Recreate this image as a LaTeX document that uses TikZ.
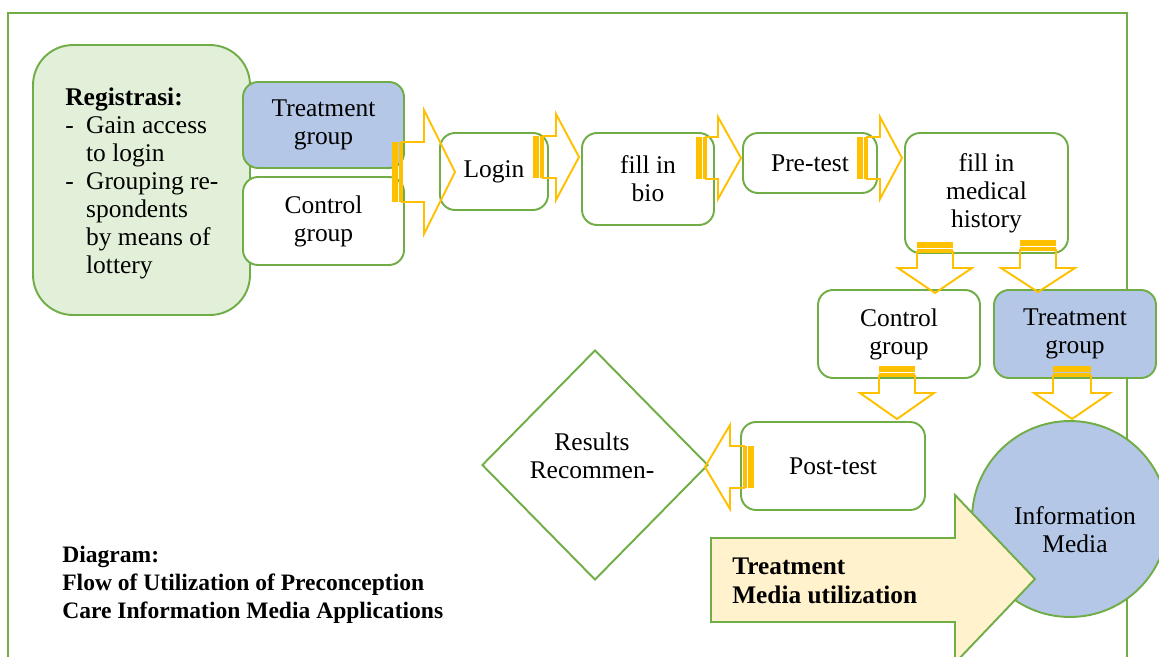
\documentclass[tikz,border=0pt]{standalone}
\usepackage{fontspec}
\setmainfont{Liberation Serif}
\usetikzlibrary{shapes.geometric}

\definecolor{verde}{HTML}{70AD47}
\definecolor{azul}{HTML}{B4C7E7}
\definecolor{verdeclaro}{HTML}{E2F0D9}
\definecolor{amarillo}{HTML}{FFC000}
\definecolor{crema}{HTML}{FFF2CC}

% flecha rayada: posicion, giro, medio cuerpo, base punta, media punta, largo
\newcommand{\flecha}[6]{%
  \begin{scope}[shift={#1}, rotate=#2, draw=amarillo, fill=amarillo, line width=1.1pt]
    \fill (-1,-#3) rectangle (5,#3);
    \fill (6,-#3) rectangle (9,#3);
    \draw (9,-#3) -- (#4,-#3) -- (#4,-#5) -- (#6,0) -- (#4,#5) -- (#4,#3) -- (9,#3) -- cycle;
  \end{scope}}

\begin{document}
\begin{tikzpicture}[x=0.02cm, y=-0.02cm,
    caja/.style={draw=verde, line width=1.1pt, fill=white, rounded corners=0.3cm,
      align=center, font=\fontsize{14.5}{16}\selectfont, inner sep=0pt},
    cajaazul/.style={caja, fill=azul},
    negrita/.style={align=left, inner sep=0pt, font=\bfseries\fontsize{13.4}{16}\selectfont}]
  \useasboundingbox (0,0) rectangle (1159,656);
  % Marco
  \draw[verde, line width=1.1pt] (8,13) rectangle (1127,680);

  % Nodos
  \node[caja, fill=verdeclaro, rounded corners=0.8cm, minimum width=4.34cm, minimum height=5.4cm] (reg) at (141.5,180) {};
  \node[anchor=west, inner sep=0pt, font=\fontsize{14.5}{16}\selectfont] (regtxt) at (65,184) {%
    \begin{tabular}{@{}l@{\hspace{7pt}}l@{}}
      \multicolumn{2}{@{}l}{\textbf{Registrasi:}}\\
      - & Gain access\\
        & to login\\
      - & Grouping re-\\
        & spondents\\
        & by means of\\
        & lottery
    \end{tabular}};
  \node[cajaazul, minimum width=3.22cm, minimum height=1.72cm] (tg1) at (323.5,125) {Treatment\\group};
  \node[caja, minimum width=3.22cm, minimum height=1.76cm] (cg1) at (323.5,221) {Control\\group};
  \node[caja, minimum width=2.16cm, minimum height=1.54cm] (login) at (494,171.5) {Login};
  \node[caja, minimum width=2.64cm, minimum height=1.84cm] (bio) at (648,179) {fill in\\bio};
  \node[caja, minimum width=2.68cm, minimum height=1.2cm] (pre) at (810,163) {Pre-test};
  \node[caja, minimum width=3.26cm, minimum height=2.4cm] (med) at (986.5,193) {fill in\\medical\\history};
  \node[caja, minimum width=3.24cm, minimum height=1.76cm] (cg2) at (899,334) {Control\\group};
  \node[cajaazul, minimum width=3.24cm, minimum height=1.76cm] (tg2) at (1075,334) {Treatment\\group};
  \node[caja, minimum width=3.68cm, minimum height=1.76cm] (post) at (833,466) {Post-test};
  \node[caja, diamond, rounded corners=0pt, minimum width=4.52cm, minimum height=4.6cm] (res) at (595,465) {};
  \node[align=center, font=\fontsize{14.5}{16}\selectfont] (restxt) at (592,456) {Results\\Recommen-};

  % Flechas
  \flecha{(393,172)}{0}{30}{31}{62}{62}
  \flecha{(534,157)}{0}{21}{22}{43}{45}
  \flecha{(697,158)}{0}{21}{21}{41}{44}
  \flecha{(858,158)}{0}{21}{22}{41}{44}
  \flecha{(935,243)}{-90}{18}{25}{37}{50}
  \flecha{(1038,241)}{-90}{18}{27}{37}{51}
  \flecha{(897,367)}{-90}{18}{26}{37}{52}
  \flecha{(1072,367)}{-90}{19}{26}{38}{52}
  \flecha{(753,467)}{180}{21}{23}{42}{48}

  \node[caja, circle, fill=azul, minimum size=3.92cm] (info) at (1070,519) {};
  \node[align=center, font=\fontsize{14.5}{16}\selectfont] (infotxt) at (1075,530) {Information\\Media};

  \draw[verde, line width=1.1pt, fill=crema] (711,538) -- (955,538) -- (955,495) -- (1035,579)
    -- (955,663) -- (955,622) -- (711,622) -- cycle;
  \node[negrita, anchor=west, font=\bfseries\fontsize{14.4}{16.5}\selectfont] (uso) at (732,581) {Treatment\\Media utilization};

  \node[negrita, anchor=west] (titulo) at (62,585) {Diagram:\\Flow of Utilization of Preconception\\Care Information Media Applications};
\end{tikzpicture}
\end{document}
